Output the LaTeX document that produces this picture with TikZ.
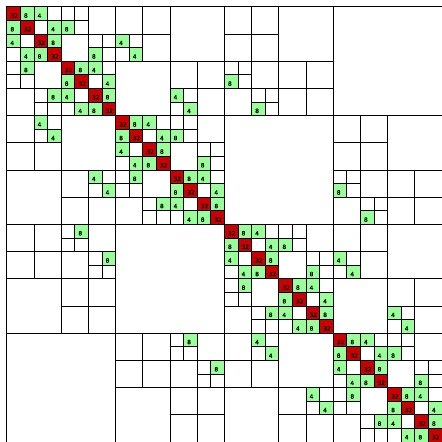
\documentclass[tikz,border=0pt]{standalone}
\usepackage{fontspec}
\usepackage{xcolor}
\usepackage{tikz}
\setmainfont{DejaVu Sans}[FakeBold=1]
\definecolor{hred}{HTML}{CC0000}
\definecolor{hgreen}{HTML}{99FF99}
\makeatletter
\renewcommand\tiny{%
  \@setfontsize\tiny{5pt}{6pt}%
}
\makeatother

\newcommand\leaf[4]{%
  \pgfmathtruncatemacro\lr{#1}\pgfmathtruncatemacro\lc{#2}%
  \draw[#3] (\lc,-\lr) rectangle ++(1,-1);
  \node[rklabel] (r\lr-\lc) at (\lc,-\lr-1) {#4};}
\newcommand\wblk[3]{%
  \pgfmathtruncatemacro\lr{#1}\pgfmathtruncatemacro\lc{#2}%
  \draw[farblk] (\lc,-\lr) rectangle ++(#3,-#3);}
\newcommand\lpair[4]{\leaf{#1}{#2}{#3}{#4}\leaf{#2}{#1}{#3}{#4}}
\newcommand\wpair[3]{\wblk{#1}{#2}{#3}\wblk{#2}{#1}{#3}}

\begin{document}
\begin{tikzpicture}[x=0.408cm, y=0.408cm, line width=0.75pt,
    fullblk/.style={draw=black, fill=hred},
    nearblk/.style={draw=black, fill=hgreen},
    farblk/.style={draw=black, fill=white},
    rklabel/.style={anchor=south west, inner xsep=2.7pt, inner ysep=1.8pt, font=\tiny, text=black}]
  \useasboundingbox (-0.5,0.5) rectangle (32,-31.95);
  % level 32: far blocks
  \wpair{0}{24}{8}
  \wpair{8}{16}{8}
  \foreach \p in {0,8} {
    \foreach \i/\j/\n in {0/0/2,0/2/2,2/0/2,2/2/2,4/2/2,4/4/2,4/6/2,6/0/2,6/4/2,6/6/2,0/4/4,4/0/1,4/1/1,5/1/1,6/2/1,6/3/1,7/3/1}
      {\wpair{\p+\i}{\p+16+\j}{\n}}
    \foreach \i/\j in {5/0,7/2}
      {\lpair{\p+\i}{\p+16+\j}{nearblk}{8}}
  }
  % level 16
  \foreach \o in {0,16} {
    \foreach \i/\j/\n in {0/8/2,0/10/2,2/10/2,4/12/2,4/14/2,6/14/2,0/12/4,4/8/4,2/9/1,3/8/1,6/13/1,7/12/1}
      {\wpair{\o+\i}{\o+\j}{\n}}
    \foreach \i/\j in {2/8,3/9,6/12,7/13}
      {\lpair{\o+\i}{\o+\j}{nearblk}{4}}
  }
  % level 8: diagonal
  \foreach \o in {0,8,16,24} {
    \foreach \i/\j/\n in {0/3/1,0/4/1,0/5/1,1/2/1,1/5/1,2/6/1,2/7/1,3/7/1,4/7/1,5/6/1,0/6/2,2/4/2}
      {\wpair{\o+\i}{\o+\j}{\n}}
    \foreach \i/\j in {0/1,2/3,4/5,6/7,1/4,3/6}
      {\lpair{\o+\i}{\o+\j}{nearblk}{8}}
    \foreach \i/\j in {0/2,1/3,4/6,5/7}
      {\lpair{\o+\i}{\o+\j}{nearblk}{4}}
    \foreach \i in {0,...,7}
      {\leaf{\o+\i}{\o+\i}{fullblk}{32}}
  }
\end{tikzpicture}
\end{document}
